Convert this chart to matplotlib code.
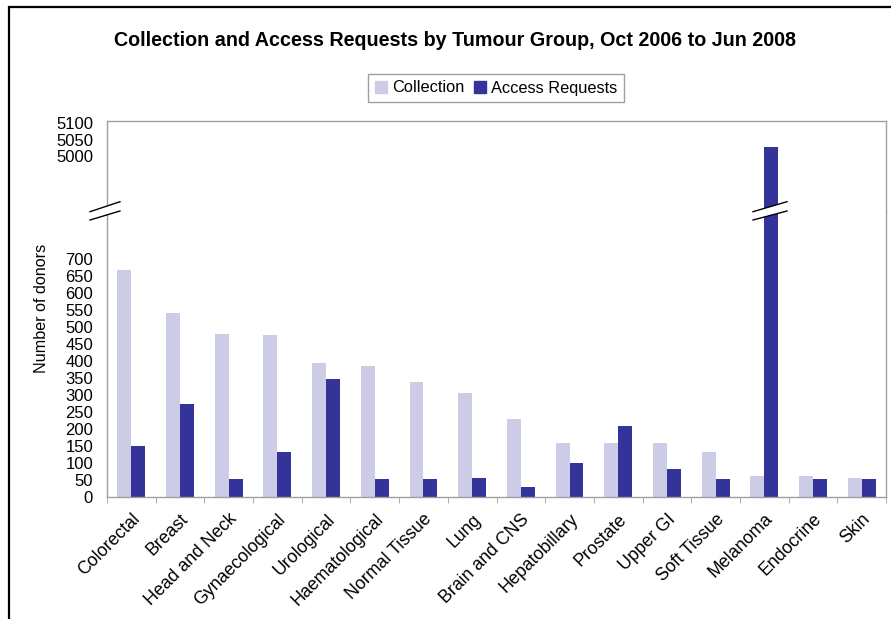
import matplotlib
matplotlib.use('Agg')
import matplotlib.pyplot as plt
import matplotlib.transforms as mtransforms
import numpy as np
from matplotlib.patches import Rectangle, Polygon
from matplotlib.lines import Line2D

plt.rcParams['font.family'] = ['Liberation Sans', 'DejaVu Sans']

# data
categories = ['Colorectal', 'Breast', 'Head and Neck', 'Gynaecological', 'Urological',
              'Haematological', 'Normal Tissue', 'Lung', 'Brain and CNS', 'Hepatobillary',
              'Prostate', 'Upper GI', 'Soft Tissue', 'Melanoma', 'Endocrine', 'Skin']
collection = [669, 543, 481, 478, 394, 385, 338, 305, 229, 158, 158, 158, 132, 61, 61, 55]
access = [150, 274, 53, 133, 347, 52, 52, 55, 29, 99, 208, 82, 52, 5028, 52, 52]
low_ticks = list(range(0, 701, 50))
high_ticks = [5000, 5050, 5100]

c_light = '#CCCCE6'
c_dark = '#333399'
frame = '#A0A0A0'

W, H = 891, 619
fig = plt.figure(figsize=(W / 100, H / 100), dpi=100)

def fx(px):
    return px / W

def fy(py):
    return 1 - py / H

left, right = fx(107), fx(886)
y0, ybrk, ytop = fy(496.7), fy(211), fy(121)
ax_lo = fig.add_axes([left, y0, right - left, ybrk - y0])
ax_hi = fig.add_axes([left, ybrk, right - left, ytop - ybrk], sharex=ax_lo)

x = np.arange(len(categories))
bw = 1 / 3.5
for ax in (ax_lo, ax_hi):
    ax.bar(x - bw / 2, collection, bw, color=c_light, label='Collection')
    ax.bar(x + bw / 2, access, bw, color=c_dark, label='Access Requests')
    for s in ax.spines.values():
        s.set_color(frame)
        s.set_linewidth(1.0)
    ax.tick_params(axis='y', length=0, pad=10, labelsize=12)

ax_lo.set_ylim(0, 843)
ax_hi.set_ylim(4833, 5107)
ax_lo.set_yticks(low_ticks)
ax_hi.set_yticks(high_ticks)
ax_lo.spines['top'].set_visible(False)
ax_hi.spines['bottom'].set_visible(False)
ax_hi.tick_params(axis='x', which='both', bottom=False, labelbottom=False)

ax_lo.set_xlim(-0.5, len(categories) - 0.5)
ax_lo.set_xticks(x)
ax_lo.set_xticklabels(categories, rotation=45, ha='right', va='top',
                      rotation_mode='anchor', fontsize=12.8)
shift = mtransforms.ScaledTranslation(-4 / 100, 0, fig.dpi_scale_trans)
for lab in ax_lo.get_xticklabels():
    lab.set_transform(lab.get_transform() + shift)
ax_lo.set_xticks(np.arange(-0.5, len(categories), 1), minor=True)
ax_lo.tick_params(axis='x', which='major', length=0, pad=10)
ax_lo.tick_params(axis='x', which='minor', length=4, color=frame)

fig.text(fx(42), fy(308), 'Number of donors', rotation=90, ha='center', va='center',
         fontsize=11.6)
fig.text(fx(455), fy(40), 'Collection and Access Requests by Tumour Group, Oct 2006 to Jun 2008',
         ha='center', va='center', fontsize=14.2, fontweight='bold')

handles = [Rectangle((0, 0), 1, 1, color=c_light), Rectangle((0, 0), 1, 1, color=c_dark)]
leg = fig.legend(handles, ['Collection', 'Access Requests'], ncol=2,
                 loc='center', bbox_to_anchor=(fx(496), fy(88)),
                 fontsize=11.8, fancybox=False, edgecolor=frame, framealpha=1,
                 handlelength=0.75, handleheight=0.75, handletextpad=0.3,
                 columnspacing=0.6, borderpad=0.4)
leg.get_frame().set_linewidth(1.0)

# break marks
def brk(xa, xb):
    ya1, yb1 = 211.7, 201.7
    ya2, yb2 = 220, 211
    fig.patches.append(Polygon([(fx(xa), fy(ya1)), (fx(xb), fy(yb1)),
                                (fx(xb), fy(yb2)), (fx(xa), fy(ya2))],
                               closed=True, facecolor='white', edgecolor='none',
                               transform=fig.transFigure, zorder=5))
    for a, b in ((ya1, yb1), (ya2, yb2)):
        fig.lines.append(Line2D([fx(xa), fx(xb)], [fy(a), fy(b)], color='black',
                                lw=1.0, transform=fig.transFigure, zorder=6))

brk(90, 120)
brk(753, 787)

# outer chart border
fig.patches.append(Rectangle((fx(9), fy(H + 20)), 1.2, fy(7) - fy(H + 20), fill=False,
                             edgecolor='black', lw=1.6, transform=fig.transFigure))

fig.savefig('out.png', dpi=100)
